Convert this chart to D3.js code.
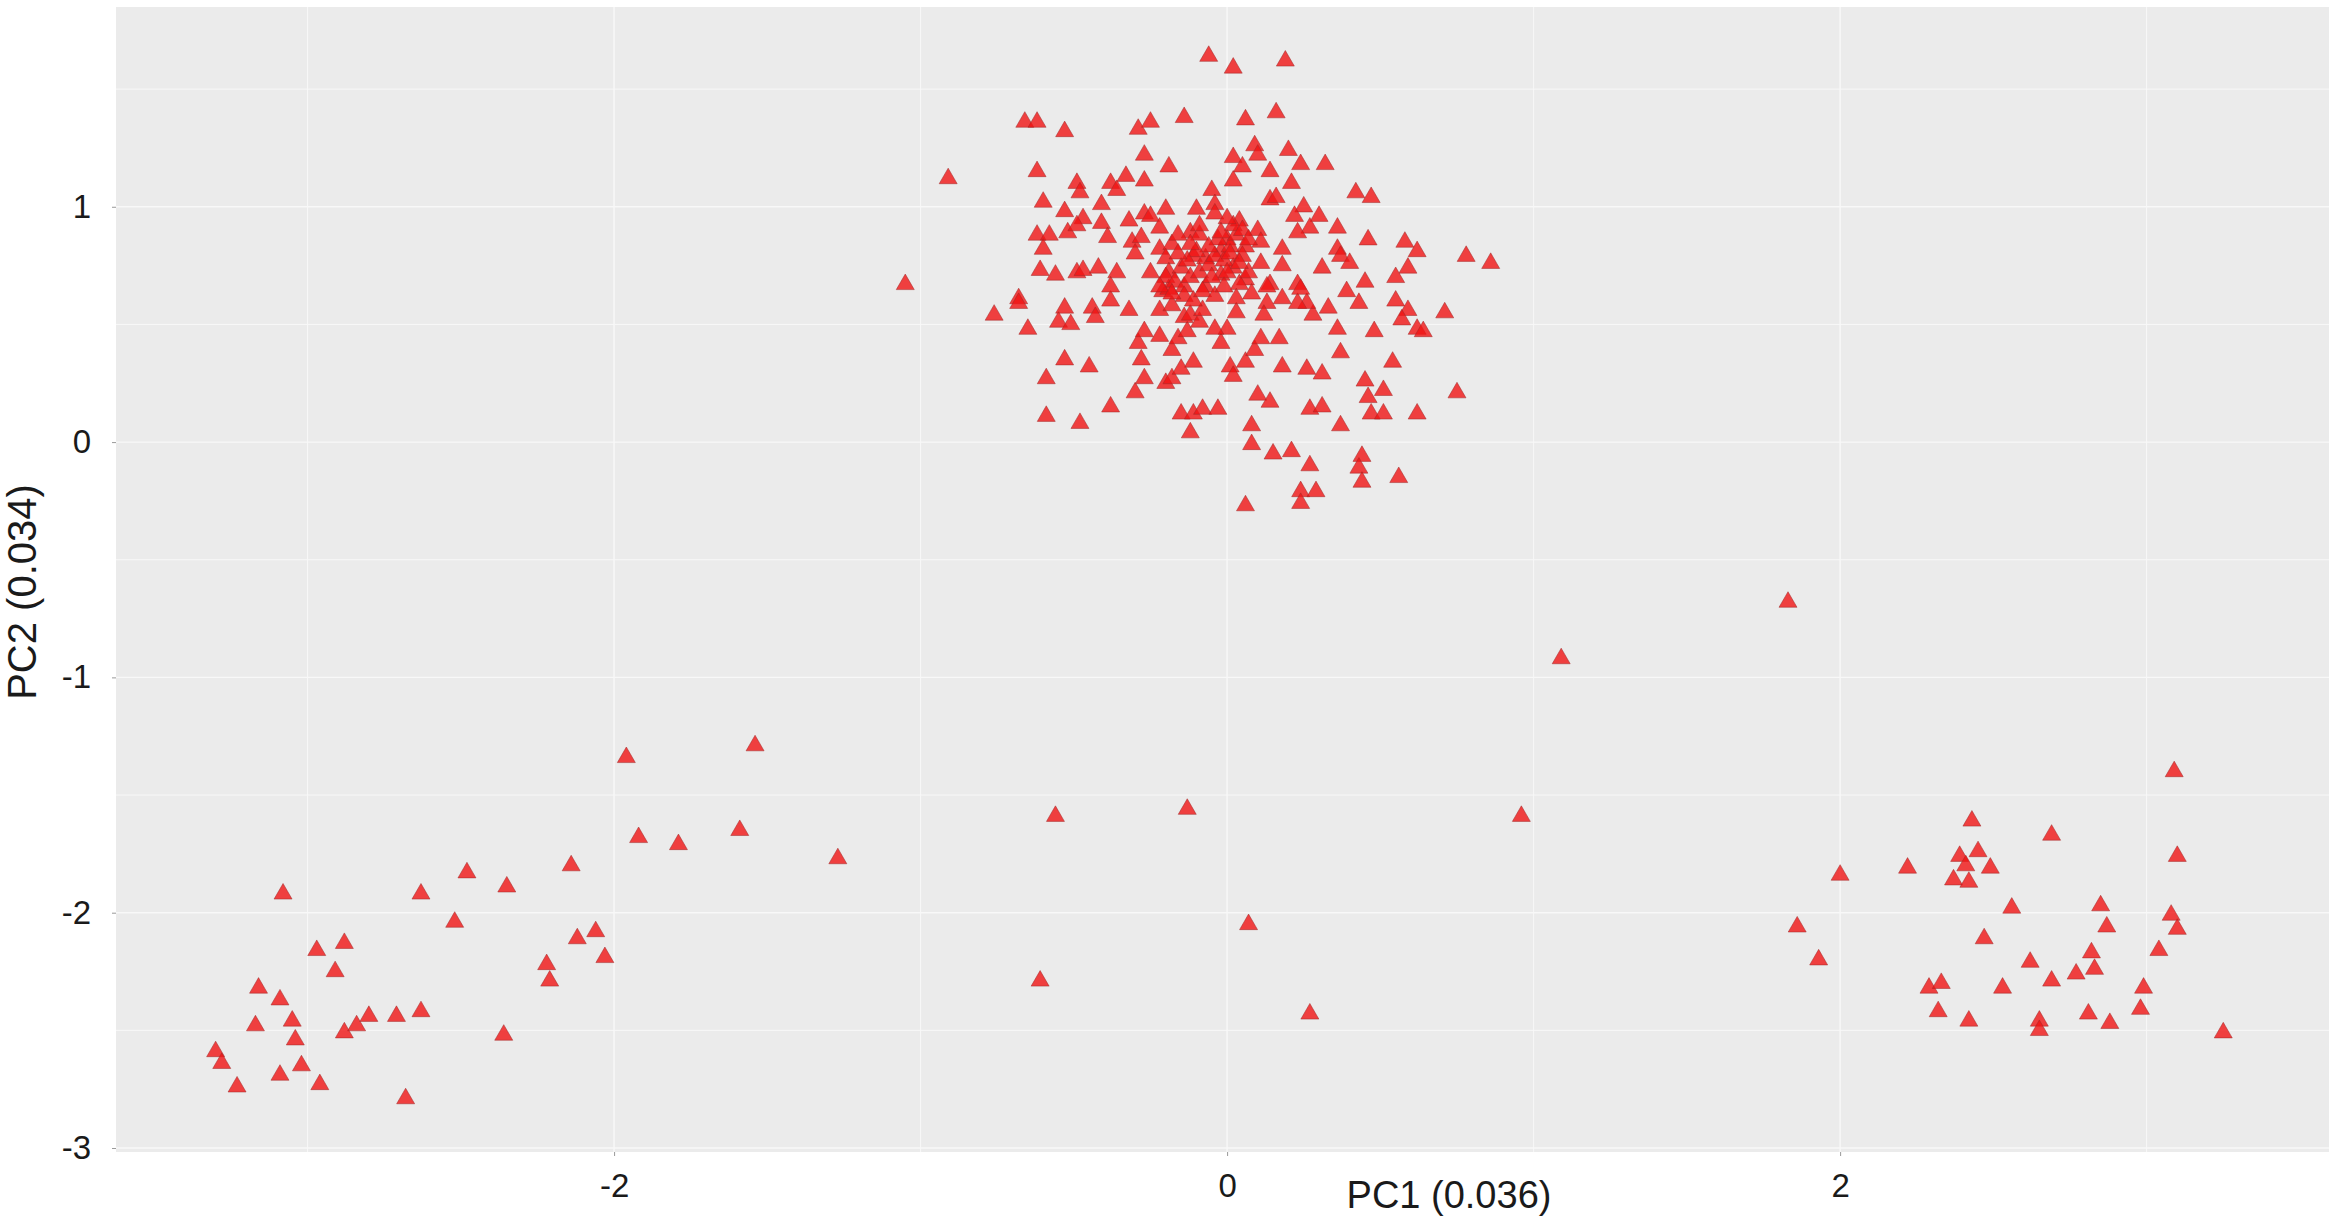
<!DOCTYPE html>
<html>
<head>
<meta charset="utf-8">
<script src="https://cdnjs.cloudflare.com/ajax/libs/d3/7.8.5/d3.min.js"></script>
<style>
	body { margin: 0; background: #fff; }
	svg { display: block; }
	.tick text { font-family: "Liberation Sans", Arial, sans-serif; fill: #1a1a1a; }
</style>
</head>
<body>
<div id="chart"></div>
<script>
/*
Data (PC1, PC2)
*/
const centralCluster = [
	[-0.66,1.36],[-0.62,1.36],[-0.53,1.32],[-0.29,1.33],[-0.25,1.36],[-0.14,1.38],[-0.91,1.12],[-0.62,1.15],
	[-0.27,1.22],[-0.19,1.17],[-0.33,1.13],[-0.27,1.11],[-0.49,1.10],[-0.48,1.06],[-0.38,1.10],[-0.36,1.07],
	[-0.60,1.02],[-0.53,0.98],[-0.47,0.95],[-0.41,1.01],[-0.41,0.93],[-0.32,0.94],[-0.27,0.97],[-0.25,0.96],
	[-0.20,0.99],[-0.22,0.91],[-0.62,0.88],[-0.58,0.88],[-0.52,0.89],[-0.49,0.92],[-0.39,0.87],[-0.60,0.82],
	[-0.31,0.85],[-0.28,0.87],[-0.30,0.80],[-0.22,0.82],[-0.18,0.84],[-0.12,0.89],[-0.61,0.73],[-0.56,0.71],
	[-0.49,0.72],[-0.47,0.73],[-0.42,0.74],[-0.36,0.72],[-1.05,0.67],[-0.20,0.78],[-0.19,0.72],[-0.15,0.74],
	[-0.11,0.79],
	[-0.06,1.64],[0.02,1.59],[0.19,1.62],[0.06,1.37],[0.16,1.40],[0.09,1.26],[0.10,1.22],[0.20,1.24],
	[0.02,1.21],[0.05,1.17],[0.14,1.15],[0.24,1.18],[0.32,1.18],[0.02,1.11],[0.21,1.10],[-0.05,1.07],
	[0.14,1.03],[0.16,1.04],[-0.10,0.99],[-0.04,1.01],[-0.04,0.97],[0.25,1.00],[0.22,0.96],[0.30,0.96],
	[0.27,0.91],[0.23,0.89],[0.36,0.91],[0.42,1.06],[0.47,1.04],[0.46,0.86],[0.58,0.85],[0.62,0.81],
	[0.78,0.79],[0.86,0.76],[0.59,0.74],[0.55,0.70],[0.45,0.68],[0.36,0.82],[0.37,0.79],[0.40,0.76],
	[0.31,0.74],[0.18,0.82],[0.11,0.76],[0.18,0.75],[0.10,0.90],[0.11,0.85],[0.04,0.94],[0.00,0.86],
	[0.06,0.83],[-0.09,0.88],[-0.02,0.81],[-0.07,0.78],[0.02,0.74],[-0.02,0.71],[0.06,0.69],[0.14,0.67],
	[0.23,0.67],
	[-0.76,0.54],[-0.68,0.61],[-0.68,0.59],[-0.65,0.48],[-0.53,0.57],[-0.55,0.51],[-0.51,0.50],[-0.44,0.57],
	[-0.43,0.53],[-0.38,0.60],[-0.38,0.66],[-0.32,0.56],[-0.53,0.35],[-0.45,0.32],[-0.59,0.27],[-0.59,0.11],
	[-0.48,0.08],[-0.38,0.15],[-0.30,0.21],[-0.27,0.27],[-0.28,0.35],[-0.29,0.42],[-0.27,0.47],[-0.22,0.45],
	[-0.20,0.25],[-0.18,0.27],[-0.18,0.39],[-0.16,0.44],[-0.13,0.47],[-0.11,0.34],[-0.15,0.31],[-0.15,0.12],
	[-0.11,0.12],[-0.12,0.04],[-0.14,0.53],[-0.12,0.54],[-0.22,0.56],[-0.21,0.64],[-0.19,0.65],[-0.09,0.51],
	[-0.08,0.14],[-0.08,0.56],
	[0.39,0.64],[0.43,0.59],[0.55,0.60],[0.59,0.56],[0.57,0.52],[0.71,0.55],[0.62,0.48],[0.64,0.47],
	[0.48,0.47],[0.36,0.48],[0.33,0.57],[0.28,0.54],[0.26,0.59],[0.23,0.59],[0.37,0.38],[0.54,0.34],
	[0.26,0.31],[0.31,0.29],[0.18,0.32],[0.45,0.26],[0.51,0.22],[0.46,0.19],[0.47,0.12],[0.51,0.12],
	[0.75,0.21],[0.62,0.12],[0.27,0.14],[0.31,0.15],[0.37,0.07],[0.10,0.20],[0.14,0.17],[0.08,0.07],
	[0.08,-0.01],[0.15,-0.05],[0.21,-0.04],[0.27,-0.10],[0.44,-0.06],[0.43,-0.11],[0.44,-0.17],[0.56,-0.15],
	[0.24,-0.21],[0.29,-0.21],[0.24,-0.26],[0.06,-0.27],[-0.03,0.14],[0.01,0.32],[0.02,0.28],[0.06,0.34],
	[0.09,0.39],[0.17,0.44],[0.11,0.44],[-0.02,0.42],[0.00,0.48],[0.03,0.55],[-0.04,0.48],[0.13,0.59],
	[0.12,0.54],[0.18,0.61],[-0.07,0.66],[0.04,0.67],[0.13,0.66],[0.24,0.65],
	[-0.20,0.70],[-0.17,0.68],[-0.14,0.66],[-0.12,0.70],[-0.09,0.72],[-0.06,0.75],[-0.04,0.79],[-0.01,0.77],
	[0.01,0.83],[0.03,0.88],[0.02,0.92],[0.05,0.79],[0.07,0.72],[-0.03,0.86],[-0.06,0.83],[-0.10,0.81],
	[-0.13,0.77],[-0.16,0.80],[-0.14,0.62],[-0.11,0.60],[-0.08,0.64],[-0.04,0.62],[-0.01,0.66],[0.03,0.61],
	[0.08,0.63],[-0.18,0.58],[-0.22,0.66],[-0.25,0.72],[-0.09,0.92],[0.00,0.95],[0.05,0.90],[-0.16,0.88],
	[-0.02,0.89],[0.01,0.80],[-0.05,0.70],[0.04,0.76],[-0.12,0.84],[0.07,0.86],[-0.18,0.63],[0.00,0.72]
];
const leftCluster = [
	[-1.96,-1.34],[-1.54,-1.29],[-1.92,-1.68],[-1.79,-1.71],[-1.59,-1.65],[-1.27,-1.77],[-2.14,-1.80],[-2.48,-1.83],
	[-2.35,-1.89],[-2.63,-1.92],[-3.08,-1.92],[-2.52,-2.04],[-2.06,-2.08],[-2.12,-2.11],[-2.03,-2.19],[-2.22,-2.22],
	[-2.21,-2.29],[-2.97,-2.16],[-2.88,-2.13],[-2.91,-2.25],[-3.16,-2.32],[-3.09,-2.37],[-3.05,-2.46],[-3.17,-2.48],
	[-3.04,-2.54],[-3.30,-2.59],[-3.28,-2.64],[-3.23,-2.74],[-3.09,-2.69],[-3.02,-2.65],[-2.96,-2.73],[-2.88,-2.51],
	[-2.84,-2.48],[-2.80,-2.44],[-2.71,-2.44],[-2.63,-2.42],[-2.36,-2.52],[-2.68,-2.79]
];
const rightCluster = [
	[3.09,-1.40],[2.43,-1.61],[2.69,-1.67],[3.10,-1.76],[2.22,-1.81],[2.00,-1.84],[2.39,-1.76],[2.45,-1.74],
	[2.41,-1.80],[2.49,-1.81],[2.37,-1.86],[2.42,-1.87],[2.56,-1.98],[2.85,-1.97],[1.86,-2.06],[2.87,-2.06],
	[3.08,-2.01],[3.10,-2.07],[2.47,-2.11],[2.82,-2.17],[3.04,-2.16],[1.93,-2.20],[2.62,-2.21],[2.83,-2.24],
	[2.77,-2.26],[2.69,-2.29],[2.29,-2.32],[2.33,-2.30],[2.53,-2.32],[2.99,-2.32],[2.98,-2.41],[2.32,-2.42],
	[2.42,-2.46],[2.65,-2.46],[2.65,-2.50],[2.81,-2.43],[2.88,-2.47],[3.25,-2.51]
];
const scattered = [
	[-0.56,-1.59],[-0.13,-1.56],[-0.61,-2.29],[0.07,-2.05],[0.27,-2.43],[0.96,-1.59],[1.09,-0.92],[1.83,-0.68]
];
const xTicks = [-2, 0, 2];
const xMinor = [-3, -1, 1, 3];
const yTicks = [-3, -2, -1, 0, 1];
const yMinor = [-2.5, -1.5, -0.5, 0.5, 1.5];
const xTitle = "PC1 (0.036)";
const yTitle = "PC2 (0.034)";

const points = [].concat(centralCluster, leftCluster, rightCluster, scattered);

const width = 2333;
const height = 1223;
const panel = { left: 116, top: 7, right: 2329, bottom: 1152 };

const svg = d3.select("#chart")
	.append("svg")
	.attr("width", width)
	.attr("height", height);

const x = d3.scaleLinear().domain([-3.625, 3.595]).range([panel.left, panel.right]);
const y = d3.scaleLinear().domain([-3.017, 1.849]).range([panel.bottom, panel.top]);

/*
Panel and grid
*/
svg.append("rect")
	.attr("x", panel.left)
	.attr("y", panel.top)
	.attr("width", panel.right - panel.left)
	.attr("height", panel.bottom - panel.top)
	.attr("fill", "#ebebeb");

const grid = svg.append("g").attr("stroke", "#f8f8f8");
grid.selectAll(".vminor").data(xMinor).enter().append("line")
	.attr("x1", d => x(d)).attr("x2", d => x(d))
	.attr("y1", panel.top).attr("y2", panel.bottom)
	.attr("stroke-width", 1);
grid.selectAll(".hminor").data(yMinor).enter().append("line")
	.attr("y1", d => y(d)).attr("y2", d => y(d))
	.attr("x1", panel.left).attr("x2", panel.right)
	.attr("stroke-width", 1);
grid.selectAll(".vmajor").data(xTicks).enter().append("line")
	.attr("x1", d => x(d)).attr("x2", d => x(d))
	.attr("y1", panel.top).attr("y2", panel.bottom)
	.attr("stroke-width", 1.4);
grid.selectAll(".hmajor").data(yTicks).enter().append("line")
	.attr("y1", d => y(d)).attr("y2", d => y(d))
	.attr("x1", panel.left).attr("x2", panel.right)
	.attr("stroke-width", 1.4);

/*
Axes
*/
const xAxis = svg.append("g")
	.attr("transform", `translate(0, ${panel.bottom})`)
	.call(d3.axisBottom(x).tickValues(xTicks).tickSize(4).tickPadding(18));
const yAxis = svg.append("g")
	.attr("transform", `translate(${panel.left}, 0)`)
	.call(d3.axisLeft(y).tickValues(yTicks).tickSize(4).tickPadding(21));
[xAxis, yAxis].forEach(a => {
	a.select(".domain").remove();
	a.selectAll(".tick line").attr("stroke", "#999");
	// plain hyphen for negatives, as in the picture
	a.selectAll(".tick text")
		.style("font-size", "33px")
		.text(d => String(d));
});

svg.append("text")
	.attr("x", 1449)
	.attr("y", 1208)
	.attr("text-anchor", "middle")
	.style("font-family", "Liberation Sans, Arial, sans-serif")
	.style("font-size", "38px")
	.attr("fill", "#1a1a1a")
	.text(xTitle);
svg.append("text")
	.attr("transform", "translate(36, 592) rotate(-90)")
	.attr("text-anchor", "middle")
	.style("font-family", "Liberation Sans, Arial, sans-serif")
	.style("font-size", "40px")
	.attr("fill", "#1a1a1a")
	.text(yTitle);

/*
Points
*/
const triangle = d3.symbol().type(d3.symbolTriangle).size(140);
svg.append("g")
	.selectAll("path")
	.data(points)
	.enter()
	.append("path")
	.attr("d", triangle)
	.attr("transform", d => `translate(${x(d[0])}, ${y(d[1])})`)
	.attr("fill", "#f01414")
	.attr("fill-opacity", 0.8)
	.attr("stroke", "#a02828")
	.attr("stroke-opacity", 0.5)
	.attr("stroke-width", 1);
</script>
</body>
</html>
